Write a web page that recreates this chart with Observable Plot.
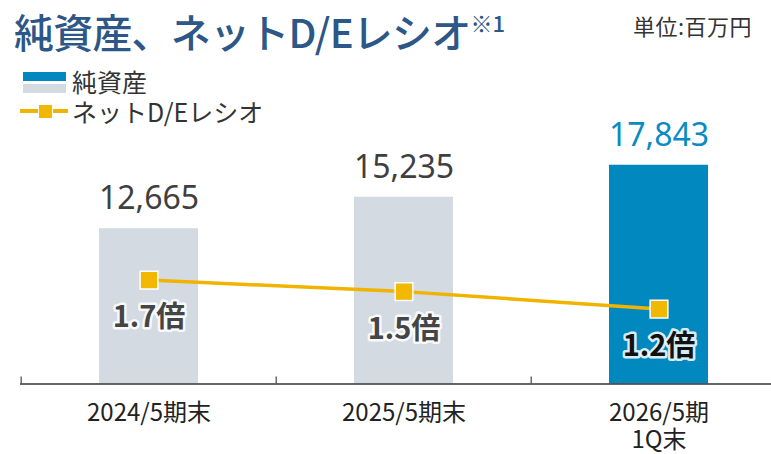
<!DOCTYPE html>
<html><head><meta charset="utf-8">
<script src="https://cdn.jsdelivr.net/npm/d3@7"></script>
<script src="https://cdn.jsdelivr.net/npm/@observablehq/plot@0.6"></script>
<style>
body{margin:0;background:#fff;font-family:"Noto Sans CJK JP","Noto Sans",sans-serif;}
#wrap{position:relative;width:771px;height:454px;overflow:hidden;}
#wrap svg{position:absolute;left:0;top:0;}
.ov{position:absolute;white-space:nowrap;line-height:1;}
</style></head>
<body><div id="wrap">
<div class="ov" id="title" style="left:14px;top:11px;font-size:40px;font-weight:500;color:#2c5786;letter-spacing:-0.8px;">純資産、ネットD/Eレシオ<span style="font-size:22px;position:relative;top:-16px;letter-spacing:0">※1</span></div>
<div class="ov" style="left:633px;top:14px;font-size:22px;color:#333;letter-spacing:0.5px;">単位:百万円</div>
<div class="ov" style="left:23px;top:72px;width:43px;height:9px;background:#0088bf;"></div>
<div class="ov" style="left:23px;top:84px;width:43px;height:9px;background:#d3dae1;"></div>
<div class="ov" style="left:72px;top:69px;font-size:25px;height:25px;color:#333;">純資産</div>
<div class="ov" style="left:20px;top:109px;width:48px;height:4px;background:#f0b400;"></div>
<div class="ov" style="left:38px;top:104px;width:13px;height:13px;background:#f2b700;border:1px solid #fff;"></div>
<div class="ov" style="left:72px;top:99px;font-size:25px;height:25px;color:#333;">ネットD/Eレシオ</div>
</div>
<script>
const categories = ["2024/5期末", "2025/5期末", "2026/5期1Q末"];
const tickLabels = ["2024/5期末", "2025/5期末", "2026/5期\n1Q末"];
const netAssets = [12665, 15235, 17843];
const deRatio = [1.7, 1.5, 1.2];
const ratioLabels = ["1.7倍", "1.5倍", "1.2倍"];

const last = categories.length - 1;
const rows = categories.map((c, i) => ({c, v: netAssets[i], r: deRatio[i], rl: ratioLabels[i], tl: tickLabels[i], i}));
// map ratio onto the bar axis (secondary scale)
const ratioY = r => 440 + r * 4730;
const xRange = [20, 787];
const step = (xRange[1] - xRange[0]) / categories.length;

const chart = Plot.plot({
  width: 771, height: 454,
  marginLeft: 20, marginRight: 0, marginTop: 0, marginBottom: 70,
  style: {fontFamily: '"Noto Sans CJK JP","Noto Sans",sans-serif', background: "transparent"},
  x: {type: "band", domain: categories, range: xRange, paddingInner: 0.61, paddingOuter: 0.305, axis: null},
  y: {domain: [0, 20000], range: [383.5, 138.3], axis: null},
  marks: [
    Plot.barY(rows, {x: "c", y: "v", fill: d => d.i === last ? "#0088bf" : "#d3dae1"}),
    Plot.ruleY([0], {stroke: "#333", strokeWidth: 1.5}),
    Plot.ruleX(rows, {x: "c", dx: -step / 2, y1: 0, y2: 570, stroke: "#444", strokeWidth: 1.2}),
    Plot.text(rows, {x: "c", y: "v", text: d => d3.format(",")(d.v), dy: -29.5, lineAnchor: "middle",
      fontSize: 32, fontFamily: '"Noto Sans",sans-serif', fill: d => d.i === last ? "#0b8bc4" : "#3f3f3f",
      style: "letter-spacing:2.5px"}),
    Plot.line(rows, {x: "c", y: d => ratioY(d.r), stroke: "#f0b400", strokeWidth: 3.5}),
    Plot.dot(rows, {x: "c", y: d => ratioY(d.r), symbol: "square", r: 10, fill: "#f2b700", stroke: "#fff", strokeWidth: 1.5}),
    Plot.text(rows, {x: "c", y: d => ratioY(d.r), text: "rl", dy: 38, lineAnchor: "middle", fontSize: 29, fontWeight: "bold",
      fontFamily: '"Noto Sans CJK JP",sans-serif',
      fill: d => d.i === last ? "#111" : "#454545", stroke: "#fff", strokeWidth: 5, strokeOpacity: 0.85}),
    Plot.text(rows, {x: "c", y: 0, text: "tl", dy: 18, lineAnchor: "top", fontSize: 24, fill: "#222", lineHeight: 1.12})
  ]
});
document.getElementById("wrap").prepend(chart);
</script>
</body></html>
